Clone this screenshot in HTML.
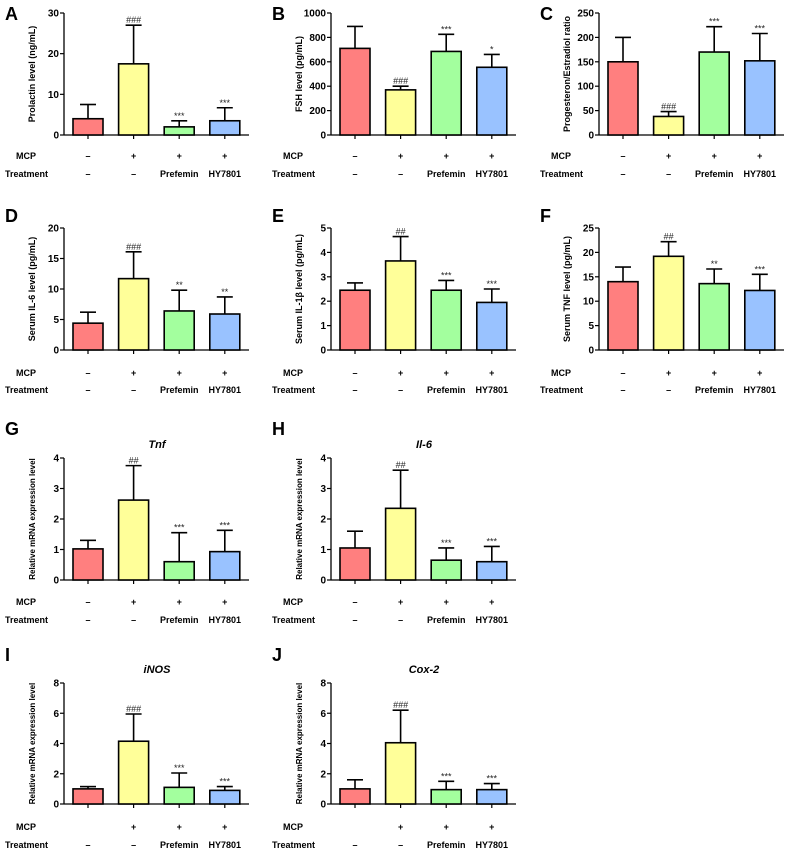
<!DOCTYPE html>
<html><head><meta charset="utf-8"><style>
html,body{margin:0;padding:0;background:#fff;}
svg{display:block;font-family:"Liberation Sans",Arial,sans-serif;}
</style></head><body>
<svg id="fig" width="788" height="851" viewBox="0 0 788 851" xmlns="http://www.w3.org/2000/svg"></svg>
<script>
const panelLetters = ['A','B','C','D','E','F','G','H','I','J'];
const yTitles = ['Prolactin level (ng/mL)','FSH level (pg/mL)','Progesteron/Estradiol ratio','Serum IL-6 level (pg/mL)','Serum IL-1\u03b2 level (pg/mL)','Serum TNF level (pg/mL)','Relative mRNA expression level','Relative mRNA expression level','Relative mRNA expression level','Relative mRNA expression level'];
const geneTitles = ['','','','','','','Tnf','Il-6','iNOS','Cox-2'];
const yMax = [30,1000,250,20,5,25,4,4,8,8];
const yStep = [10,200,50,5,1,5,1,1,2,2];
const means = [
 [4,17.5,2,3.5],[710,370,685,555],[150,38,170,152],[4.4,11.7,6.4,5.9],[2.45,3.65,2.45,1.95],
 [14,19.2,13.6,12.2],[1.02,2.62,0.6,0.93],[1.05,2.35,0.65,0.6],[1.0,4.15,1.1,0.9],[1.0,4.05,0.95,0.95]];
const errTops = [
 [7.5,27,3.5,6.7],[890,400,825,660],[200,48,222,208],[6.2,16.1,9.8,8.7],[2.75,4.65,2.85,2.5],
 [17,22.2,16.6,15.5],[1.3,3.75,1.55,1.63],[1.6,3.6,1.05,1.1],[1.15,5.95,2.05,1.15],[1.6,6.2,1.5,1.35]];
const sigs = [
 ['','###','***','***'],['','###','***','*'],['','###','***','***'],['','###','**','**'],['','##','***','***'],
 ['','##','**','***'],['','##','***','***'],['','##','***','***'],['','###','***','***'],['','###','***','***']];
const mcpRow = [['–','+','+','+'],['–','+','+','+'],['–','+','+','+'],['–','+','+','+'],['–','+','+','+'],
 ['–','+','+','+'],['–','+','+','+'],['–','+','+','+'],['','+','+','+'],['','+','+','+']];
const treatRow = ['–','–','Prefemin','HY7801'];
const barColors = ['#ff7f7f','#ffff99','#a3ff9e','#99c2ff'];

const colAxisX = [64,331,599];
const rows = [
 {top:13,zero:135,mcp:156,treat:174,letter:20,title:0},
 {top:228,zero:350,mcp:373,treat:390,letter:222,title:0},
 {top:458,zero:580,mcp:602,treat:620,letter:435,title:444},
 {top:683,zero:804,mcp:827,treat:845,letter:661,title:669}];
const layout = [[0,0],[0,1],[0,2],[1,0],[1,1],[1,2],[2,0],[2,1],[3,0],[3,1]];
const NS='http://www.w3.org/2000/svg';
const svg=document.getElementById('fig');
function mk(tag,attrs,parent,text){const e=document.createElementNS(NS,tag);for(const k in attrs)e.setAttribute(k,attrs[k]);if(text!==undefined)e.textContent=text;(parent||svg).appendChild(e);return e;}

for(let p=0;p<10;p++){
 const r=rows[layout[p][0]], ax=colAxisX[layout[p][1]];
 const g=mk('g',{});
 
 
 const yS=v=>r.zero-(v/yMax[p])*(r.zero-r.top);
 const xC=i=>ax+24+i*45.6;
 const lt=mk('text',{x:ax-59,y:r.letter,'font-size':18,'font-weight':'bold'},g,panelLetters[p]);
 
 
 if(geneTitles[p]){
  const t=mk('text',{x:ax+93,y:r.title+4,'font-size':11,'font-weight':'bold','font-style':'italic','text-anchor':'middle'},g,geneTitles[p]);
  
  
 }
 const cy=(r.top+r.zero)/2;
 const yt=mk('text',{x:ax-29,y:cy,'font-size':p>=6?8:9,'font-weight':'bold','text-anchor':'middle',transform:`rotate(-90 ${ax-29} ${cy})`},g,yTitles[p]);
 
 
 // axes
 mk('line',{x1:ax,y1:r.top,x2:ax,y2:r.zero,stroke:'#000','stroke-width':1.3},g);
 mk('line',{x1:ax,y1:r.zero,x2:ax+185,y2:r.zero,stroke:'#000','stroke-width':1.3},g);
 for(let v=0;v<=yMax[p]+1e-9;v+=yStep[p]){
  const y=yS(v);
  mk('line',{x1:ax-4,y1:y,x2:ax,y2:y,stroke:'#000','stroke-width':1.2},g);
  const tl=mk('text',{x:ax-5,y:y+3.5,'font-size':10,'font-weight':'bold','text-anchor':'end'},g,String(Math.round(v*100)/100));
  
  
 }
 for(let i=0;i<4;i++){
  const xc=xC(i);
  mk('line',{x1:xc,y1:r.zero,x2:xc,y2:r.zero+4,stroke:'#000','stroke-width':1.2},g);
  const eY=yS(errTops[p][i]), mY=yS(means[p][i]);
  mk('line',{x1:xc,y1:mY,x2:xc,y2:eY,stroke:'#000','stroke-width':1.6},g);
  mk('line',{x1:xc-8,y1:eY,x2:xc+8,y2:eY,stroke:'#000','stroke-width':1.6},g);
  const b=mk('rect',{x:xc-15,y:mY,width:30,height:r.zero-mY,fill:barColors[i],stroke:'#000','stroke-width':1.6},g);
  
  
  if(sigs[p][i]){
   const s=mk('text',{x:xc,y:eY-2,'font-size':9,'text-anchor':'middle',fill:'#222'},g,sigs[p][i]);
   
   
  }
  const m=mk('text',{x:xc,y:r.mcp+3,'font-size':9,'font-weight':'bold','text-anchor':'middle'},g,mcpRow[p][i]);
  
  
  const tr=mk('text',{x:xc,y:r.treat+3,'font-size':9,'font-weight':'bold','text-anchor':'middle'},g,treatRow[i]);
  
  
 }
 const ml=mk('text',{x:ax-48,y:r.mcp+3,'font-size':9,'font-weight':'bold'},g,'MCP');
 
 
 const tl2=mk('text',{x:ax-59,y:r.treat+3,'font-size':9,'font-weight':'bold'},g,'Treatment');
 
 
}
</script>
</body></html>
